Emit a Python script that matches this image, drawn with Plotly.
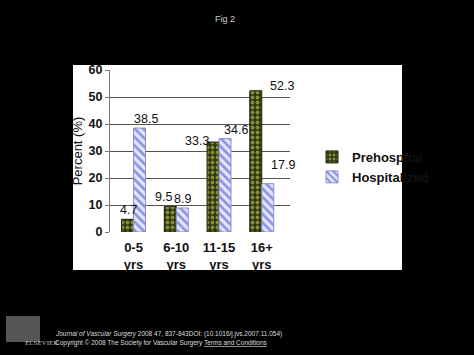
import plotly.graph_objects as go

categories = ["0-5<br>yrs", "6-10<br>yrs", "11-15<br>yrs", "16+<br>yrs"]
prehospital = [4.7, 9.5, 33.3, 52.3]
hospitalized = [38.5, 8.9, 34.6, 17.9]
y_ticks = [0, 10, 20, 30, 40, 50, 60]

W, H = 474, 355
L, R, T, B = 110, 184, 70, 123
PW, PH = W - L - R, H - T - B

def px(x):
    return (x - L) / PW

def py(y):
    return (H - B - y) / PH

FONT = "Liberation Sans, Arial, sans-serif"

fig = go.Figure()
fig.add_trace(go.Bar(
    name="Prehospital", x=categories, y=prehospital,
    marker=dict(color="#2c3510", line=dict(color="#1a1f08", width=1),
                pattern=dict(shape=".", fgcolor="#e6e25a", bgcolor="#2c3510",
                             size=5, solidity=0.45, fillmode="overlay")),
))
fig.add_trace(go.Bar(
    name="Hospitalized", x=categories, y=hospitalized,
    marker=dict(color="#e4e6ff", line=dict(color="#8890d0", width=1),
                pattern=dict(shape="\\", fgcolor="#2f3fc4", bgcolor="#e4e6ff",
                             size=6, solidity=0.45, fillmode="overlay")),
))

# value labels (offsets in pixels, relative to the bar top/centre)
pre_off = [(1, 9), (-6, 9), (-16, 1), (27, 5)]
hos_off = [(6, 9), (0, 9), (10, 9), (15, 19)]
for i, c in enumerate(categories):
    for vals, off, side in ((prehospital, pre_off, -1), (hospitalized, hos_off, 1)):
        fig.add_annotation(x=c, y=vals[i], xref="x", yref="y", text=f"{vals[i]}",
                           showarrow=False, xshift=side * 6.5 + off[i][0], yshift=off[i][1],
                           font=dict(family=FONT, size=12.5, color="#111"))

# white panel behind the chart
fig.add_shape(type="rect", xref="paper", yref="paper", layer="below",
              x0=px(73), x1=px(402), y0=py(270), y1=py(65),
              fillcolor="white", line=dict(width=0))

# Elsevier logo approximation
fig.add_shape(type="rect", xref="paper", yref="paper", layer="above",
              x0=px(6), x1=px(40), y0=py(342), y1=py(316),
              fillcolor="#6a6a6a", line=dict(width=0), opacity=0.8)
fig.add_annotation(xref="paper", yref="paper", x=px(23), y=py(349), text="ELSEVIER",
                   showarrow=False, font=dict(family="Liberation Serif, serif", size=7, color="#bbbbbb"))

fig.add_annotation(xref="paper", yref="paper", x=px(237), y=py(12), text="Fig 2",
                   showarrow=False, font=dict(family=FONT, size=9, color="#cccccc"))
fig.add_annotation(xref="paper", yref="paper", x=px(53), y=py(340), xanchor="left",
                   text="<i>Journal of Vascular Surgery</i> 2008 47, 837-843DOI: (10.1016/j.jvs.2007.11.054)",
                   showarrow=False, font=dict(family=FONT, size=6.5, color="#dddddd"))
fig.add_annotation(xref="paper", yref="paper", x=px(53), y=py(349), xanchor="left",
                   text="Copyright © 2008 The Society for Vascular Surgery <u>Terms and Conditions</u>",
                   showarrow=False, font=dict(family=FONT, size=6.5, color="#dddddd"))

fig.update_layout(
    width=W, height=H,
    margin=dict(l=L, r=R, t=T, b=B, pad=0),
    paper_bgcolor="black", plot_bgcolor="white",
    barmode="group", bargap=0.44, bargroupgap=0,
    font=dict(family=FONT, color="#111"),
    showlegend=True,
    legend=dict(x=px(312), y=py(167), xanchor="left", yanchor="middle",
                bgcolor="rgba(0,0,0,0)", font=dict(family=FONT, size=13, color="#111", weight="bold"),
                itemwidth=30, tracegroupgap=0),
    xaxis=dict(showgrid=False, showline=False, ticks="", ticklabelstandoff=6,
               range=[-0.55, 3.66],
               tickfont=dict(family=FONT, size=13, color="#111", weight="bold")),
    yaxis=dict(range=[0, 60], tickvals=y_ticks, showgrid=True, gridcolor="#555", gridwidth=1,
               showline=True, linecolor="#777", ticks="outside", ticklen=4, tickcolor="#777",
               zeroline=False,
               tickfont=dict(family=FONT, size=12.5, color="#111", weight="bold"),
               title=dict(text="Percent (%)", font=dict(family=FONT, size=13, color="#111"), standoff=3)),
)

fig.write_html("out.html", config={"displayModeBar": False},
               post_script="document.body.style.margin='0';document.body.style.background='black';")
